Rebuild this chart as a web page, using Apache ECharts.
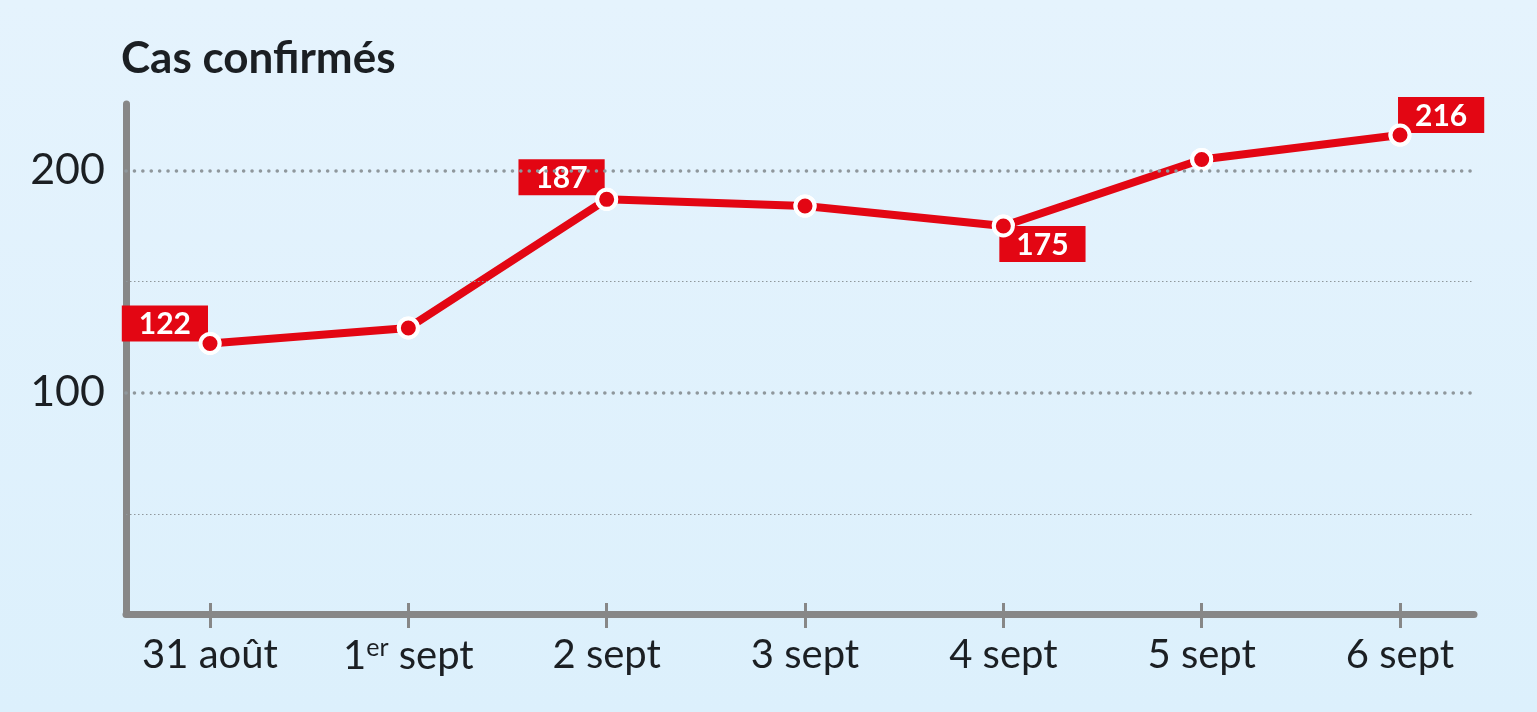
<!DOCTYPE html>
<html>
<head>
<meta charset="utf-8">
<script src="https://cdn.jsdelivr.net/npm/echarts@6/dist/echarts.min.js"></script>
<style>
  html, body { margin: 0; padding: 0; }
  #chart { width: 1537px; height: 712px; }
</style>
</head>
<body>
<div id="chart"></div>
<script>
// ---- data ----
const categories = ['31 août', '1{sup|er} sept', '2 sept', '3 sept', '4 sept', '5 sept', '6 sept'];
const cases = [122, 129, 187, 184, 175, 205, 216];
const labelledIndices = [0, 2, 4, 6];
const yTickValues = [100, 200];
const minorGridValues = [150, 45];
const titleText = 'Cas confirmés';

// ---- styles ----
const RED = '#e30613';
const AXIS_GREY = '#878787';
const GRID_GREY = '#8f979c';
const TEXT = '#1b1f23';
const FONT = 'Lato';

// label placement per labelled point (style only)
const placements = {
  0: { position: [9.5, 9.5], align: 'right', verticalAlign: 'bottom' },
  2: { position: [9.5, 7.5], align: 'right', verticalAlign: 'bottom' },
  4: { position: [7.5, 11.5], align: 'left', verticalAlign: 'top' },
  6: { position: [9.5, 9.5], align: 'left', verticalAlign: 'bottom' }
};

const lineData = cases.map((v, i) => {
  const item = { value: [i, v] };
  if (labelledIndices.includes(i)) {
    item.label = Object.assign({ show: true }, placements[i]);
  }
  return item;
});
const dotData = cases.map((v, i) => [i, v]);
const catIdx = categories.map((c, i) => i);

const gridLines = yTickValues.map(v => ({
  yAxis: v, lineStyle: { color: GRID_GREY, width: 3.5, type: [0.1, 8.3], cap: 'round' }
})).concat(minorGridValues.map(v => ({
  yAxis: v, lineStyle: { color: GRID_GREY, width: 1.2, type: [1.5, 2.5], cap: 'butt' }
})));

const chart = echarts.init(document.getElementById('chart'));
chart.setOption({
  animation: false,
  backgroundColor: {
    type: 'linear', x: 0, y: 0, x2: 0, y2: 1,
    colorStops: [{ offset: 0, color: '#e5f3fd' }, { offset: 1, color: '#dcf0fc' }]
  },
  title: {
    text: titleText,
    left: 116, top: 32,
    textStyle: { fontFamily: FONT, fontWeight: 'bold', fontSize: 44, color: TEXT }
  },
  grid: { left: 126, right: 63, top: 104, bottom: 98, containLabel: false, outerBoundsMode: 'none' },
  xAxis: [{
    type: 'value',
    min: -0.4235, max: 6.373,
    axisLine: { show: true, onZero: false, lineStyle: { color: AXIS_GREY, width: 7, cap: 'round' } },
    axisTick: { show: true, customValues: catIdx, length: 14, lineStyle: { color: AXIS_GREY, width: 3 } },
    axisLabel: {
      customValues: catIdx,
      margin: 21,
      fontFamily: FONT, fontSize: 40, color: TEXT,
      formatter: v => categories[Math.round(v)],
      rich: { sup: { fontFamily: FONT, fontSize: 25, color: TEXT, padding: [0, 0, 18, 0] } }
    },
    splitLine: { show: false }
  }, {
    type: 'value',
    position: 'bottom',
    min: -0.4235, max: 6.373,
    axisLine: { show: false },
    axisTick: { show: true, inside: true, customValues: catIdx, length: 11, lineStyle: { color: AXIS_GREY, width: 3 } },
    axisLabel: { show: false },
    splitLine: { show: false }
  }],
  yAxis: {
    type: 'value',
    min: 0, max: 230,
    axisLine: { show: true, onZero: false, lineStyle: { color: AXIS_GREY, width: 7, cap: 'round' } },
    axisTick: { show: false },
    axisLabel: {
      customValues: yTickValues,
      margin: 21,
      fontFamily: FONT, fontSize: 43, color: TEXT
    },
    splitLine: { show: false }
  },
  series: [{
    type: 'line',
    z: 2,
    data: lineData,
    symbol: 'circle',
    symbolSize: 19,
    itemStyle: { color: RED, borderColor: '#fff', borderWidth: 4 },
    lineStyle: { color: RED, width: 8 },
    label: {
      show: false,
      formatter: p => String(p.value[1]),
      fontFamily: FONT, fontWeight: 'bold', fontSize: 30, lineHeight: 30,
      color: '#fff', backgroundColor: RED,
      padding: [4, 17, 2, 17]
    },
    markLine: {
      silent: true,
      symbol: 'none',
      label: { show: false },
      data: gridLines
    }
  }, {
    type: 'scatter',
    z: 4,
    data: dotData,
    symbol: 'circle',
    symbolSize: 19,
    itemStyle: { color: RED, borderColor: '#fff', borderWidth: 4, opacity: 1 }
  }]
});
</script>
</body>
</html>
